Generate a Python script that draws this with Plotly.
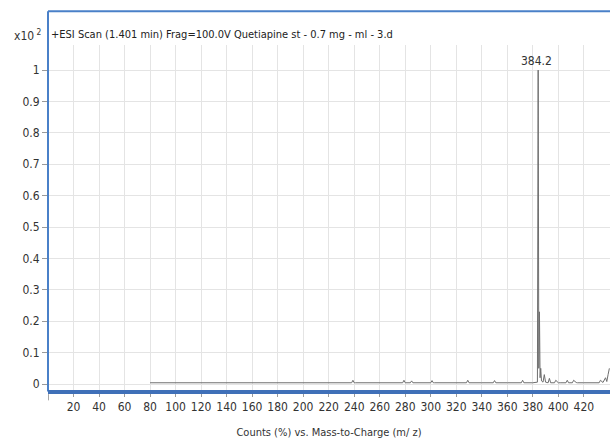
import plotly.graph_objects as go

# Profile spectrum: m/z values and relative counts (x10^2)
mz = [80, 100, 120, 140, 160, 180, 200, 220, 238, 239, 240, 241, 260,
      278, 279, 280, 284, 285, 286, 300, 301, 302, 303, 320, 328, 329,
      330, 340, 349, 350, 351, 360, 371, 372, 373, 380, 383.6, 384.2,
      384.7, 385.2, 385.7, 386.2, 386.8, 388, 389, 390, 392, 393, 394,
      397, 398, 400, 402, 406, 407, 408, 411, 412, 414, 415, 420, 425,
      430, 432, 433, 435, 437, 438, 439, 440]
counts = [0.004, 0.004, 0.004, 0.004, 0.004, 0.004, 0.004, 0.004, 0.004,
          0.012, 0.004, 0.004, 0.004, 0.004, 0.012, 0.004, 0.004, 0.010,
          0.004, 0.004, 0.011, 0.004, 0.004, 0.004, 0.004, 0.012, 0.004,
          0.004, 0.004, 0.011, 0.004, 0.004, 0.004, 0.012, 0.004, 0.004,
          0.006, 1.0, 0.05, 0.23, 0.02, 0.05, 0.01, 0.006, 0.03, 0.006,
          0.004, 0.018, 0.004, 0.004, 0.012, 0.004, 0.004, 0.004, 0.012,
          0.004, 0.004, 0.012, 0.005, 0.004, 0.004, 0.004, 0.004, 0.004,
          0.012, 0.005, 0.02, 0.008, 0.03, 0.05]

x_ticks = list(range(20, 421, 20))
x_labels = [str(v) for v in x_ticks]
y_ticks = [0, 0.1, 0.2, 0.3, 0.4, 0.5, 0.6, 0.7, 0.8, 0.9, 1.0]
y_labels = ["0", "0.1", "0.2", "0.3", "0.4", "0.5", "0.6", "0.7", "0.8", "0.9", "1"]

peak_mz = 384.2
peak_counts = 1.0
title_text = "+ESI Scan (1.401 min) Frag=100.0V Quetiapine st - 0.7 mg - ml - 3.d"
x_title = "Counts (%) vs. Mass-to-Charge (m/ z)"

FONT = "Liberation Sans Narrow, DejaVu Sans Condensed, Arial Narrow, sans-serif"
BLUE = "#4a80c8"
TICK = "#9a9a9a"

fig = go.Figure()
fig.add_trace(go.Scatter(
    x=mz, y=counts, mode="lines",
    line=dict(color="#6e6e6e", width=1),
    hoverinfo="x+y", showlegend=False,
))

fig.add_annotation(
    x=peak_mz, y=peak_counts, text=str(peak_mz), showarrow=False,
    xanchor="center", yanchor="bottom", xshift=-2,
    font=dict(family=FONT, size=12, color="#333333"),
)

# Header band text inside the frame
fig.add_annotation(
    x=0, y=1.029, xref="paper", yref="paper", text=title_text,
    showarrow=False, xanchor="left", yanchor="middle", xshift=1,
    font=dict(family=FONT, size=11, color="#222222"),
)
fig.add_annotation(
    x=0, y=1.029, xref="paper", yref="paper",
    text="x10<sup> 2</sup>", showarrow=False,
    xanchor="right", yanchor="middle", xshift=-4,
    font=dict(family=FONT, size=12, color="#333333"),
)

# Blue frame: left and top edges, heavier bottom edge
fig.add_shape(type="line", xref="paper", yref="paper",
              x0=0, x1=0, y0=-0.004, y1=1.098,
              line=dict(color=BLUE, width=2))
fig.add_shape(type="line", xref="paper", yref="paper",
              x0=0, x1=1, y0=1.098, y1=1.098,
              line=dict(color=BLUE, width=2))
fig.add_shape(type="line", xref="paper", yref="paper",
              x0=0, x1=1, y0=-0.006, y1=-0.006,
              line=dict(color="#3f70b8", width=4))
# Unlabelled tick at m/z 0
fig.add_shape(type="line", xref="x", yref="paper",
              x0=0.3, x1=0.3, y0=-0.012, y1=-0.03,
              line=dict(color=TICK, width=1))

fig.update_xaxes(
    range=[0, 440.5], tickvals=x_ticks, ticktext=x_labels,
    showgrid=True, gridcolor="#e4e4e4", gridwidth=1,
    ticks="outside", ticklen=6, tickcolor=TICK,
    showline=False, zeroline=False,
    tickfont=dict(family=FONT, size=12, color="#333333"),
    title=dict(text=x_title, standoff=14,
               font=dict(family=FONT, size=11, color="#333333")),
)
fig.update_yaxes(
    range=[-0.019, 1.08], tickvals=y_ticks, ticktext=y_labels,
    showgrid=True, gridcolor="#e4e4e4", gridwidth=1,
    ticks="outside", ticklen=5, tickcolor=TICK,
    showline=False, zeroline=False,
    tickfont=dict(family=FONT, size=12, color="#333333"),
)

fig.update_layout(
    width=610, height=446,
    margin=dict(l=48, r=0, t=45, b=56),
    paper_bgcolor="white", plot_bgcolor="white",
)

fig.write_html("out.html")
